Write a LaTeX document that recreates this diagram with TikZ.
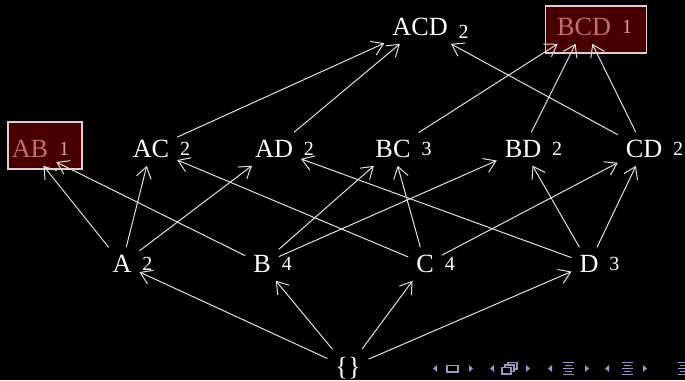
\documentclass[tikz,border=0pt]{standalone}
\usepackage{fontspec}
\setmainfont{Liberation Serif}
\usetikzlibrary{arrows.meta}
\definecolor{edgegray}{RGB}{225,225,225}
\definecolor{boxfill}{RGB}{72,0,0}
\definecolor{boxline}{RGB}{225,205,205}
\definecolor{boxtext}{RGB}{196,112,112}
\definecolor{boxcnt}{RGB}{215,160,160}
\definecolor{navblue}{RGB}{150,150,200}
\begin{document}
\begin{tikzpicture}[x=0.4pt, y=-0.4pt, >={Straight Barb[length=4.5pt,width=6pt]},
  every node/.style={font=\fontsize{10.5}{12.5}\selectfont, text=white},
  label distance=1pt,
  set/.style={inner sep=3pt},
  cnt/.style={font=\fontsize{8}{9}\selectfont, inner sep=0pt},
  hilite/.style={draw=boxline, fill=boxfill, line width=0.6pt, inner sep=0pt, minimum height=18.8pt},
  link/.style={->, draw=edgegray, line width=0.4pt}]
\useasboundingbox (0,0) rectangle (685,380);
\fill[black] (0,0) rectangle (685,380);
% highlighted itemsets
\node[hilite, minimum width=29.6pt] (ABbox) at (45,145.5) {};
\node[hilite, minimum width=40.4pt] (BCDbox) at (596,29.5) {};
% itemsets with their counts
\node[set, text=boxtext, label={[cnt, text=boxcnt]right:1}] (AB) at (30,149) {AB};
\node[set, label={[cnt]right:2}] (AC) at (151,149) {AC};
\node[set, label={[cnt]right:2}] (AD) at (274,149) {AD};
\node[set, label={[cnt]right:3}] (BC) at (393,149) {BC};
\node[set, label={[cnt]right:2}] (BD) at (523,149) {BD};
\node[set, label={[cnt]right:2}] (CD) at (644,149) {CD};
\node[set, label={[cnt, yshift=-2pt]right:2}] (ACD) at (420,27) {ACD};
\node[set, text=boxtext, label={[cnt, text=boxcnt]right:1}] (BCD) at (584,27) {BCD};
\node[set, label={[cnt]right:2}] (A) at (122,264) {A};
\node[set, label={[cnt]right:4}] (B) at (262,264) {B};
\node[set, label={[cnt]right:4}] (C) at (425,264) {C};
\node[set, label={[cnt]right:3}] (D) at (589,264) {D};
\node[set] (empty) at (348,368) {\{\}};
% lattice
\draw[link] (empty) -- (A);
\draw[link] (empty) -- (B);
\draw[link] (empty) -- (C);
\draw[link] (empty) -- (D);
\draw[link] (A) -- (AB);
\draw[link] (A) -- (AC);
\draw[link] (A) -- (AD);
\draw[link] (B) -- (AB);
\draw[link] (B) -- (BC);
\draw[link] (B) -- (BD);
\draw[link] (C) -- (AC);
\draw[link] (C) -- (BC);
\draw[link] (C) -- (CD);
\draw[link] (D) -- (AD);
\draw[link] (D) -- (BD);
\draw[link] (D) -- (CD);
\draw[link] (AC) -- (ACD);
\draw[link] (AD) -- (ACD);
\draw[link] (CD) -- (ACD);
\draw[link] (BC) -- (BCD);
\draw[link] (BD) -- (BCD);
\draw[link] (CD) -- (BCD);
% navigation symbols
\fill[navblue] (437,365) -- (433,368.5) -- (437,372) -- cycle;
\draw[navblue, line width=0.5pt] (447,365.5) rectangle (458,372);
\fill[navblue] (469,365) -- (473,368.5) -- (469,372) -- cycle;
\fill[navblue] (494,365) -- (490,368.5) -- (494,372) -- cycle;
\draw[navblue, line width=0.5pt, fill=black] (508,362.5) rectangle (517,369);
\draw[navblue, line width=0.5pt, fill=black] (505,365) rectangle (514,371.5);
\draw[navblue, line width=0.5pt, fill=black] (502,367.5) rectangle (511,374);
\fill[navblue] (526,365) -- (530,368.5) -- (526,372) -- cycle;
\fill[navblue] (552,365) -- (548,368.5) -- (552,372) -- cycle;
\draw[navblue, line width=0.6pt] (563,362.5) -- (574,362.5) (565,365.5) -- (572,365.5) (563,368.5) -- (574,368.5) (565,371.5) -- (572,371.5) (563,374.5) -- (574,374.5);
\fill[navblue] (585,365) -- (589,368.5) -- (585,372) -- cycle;
\fill[navblue] (609,365) -- (605,368.5) -- (609,372) -- cycle;
\draw[navblue, line width=0.6pt] (622,362.5) -- (633,362.5) (624,365.5) -- (631,365.5) (622,368.5) -- (633,368.5) (624,371.5) -- (631,371.5) (622,374.5) -- (633,374.5);
\fill[navblue] (643,365) -- (647,368.5) -- (643,372) -- cycle;
\draw[navblue, line width=0.6pt] (678,362.5) -- (689,362.5) (680,365.5) -- (687,365.5) (678,368.5) -- (689,368.5) (680,371.5) -- (687,371.5) (678,374.5) -- (689,374.5);
\end{tikzpicture}
\end{document}
